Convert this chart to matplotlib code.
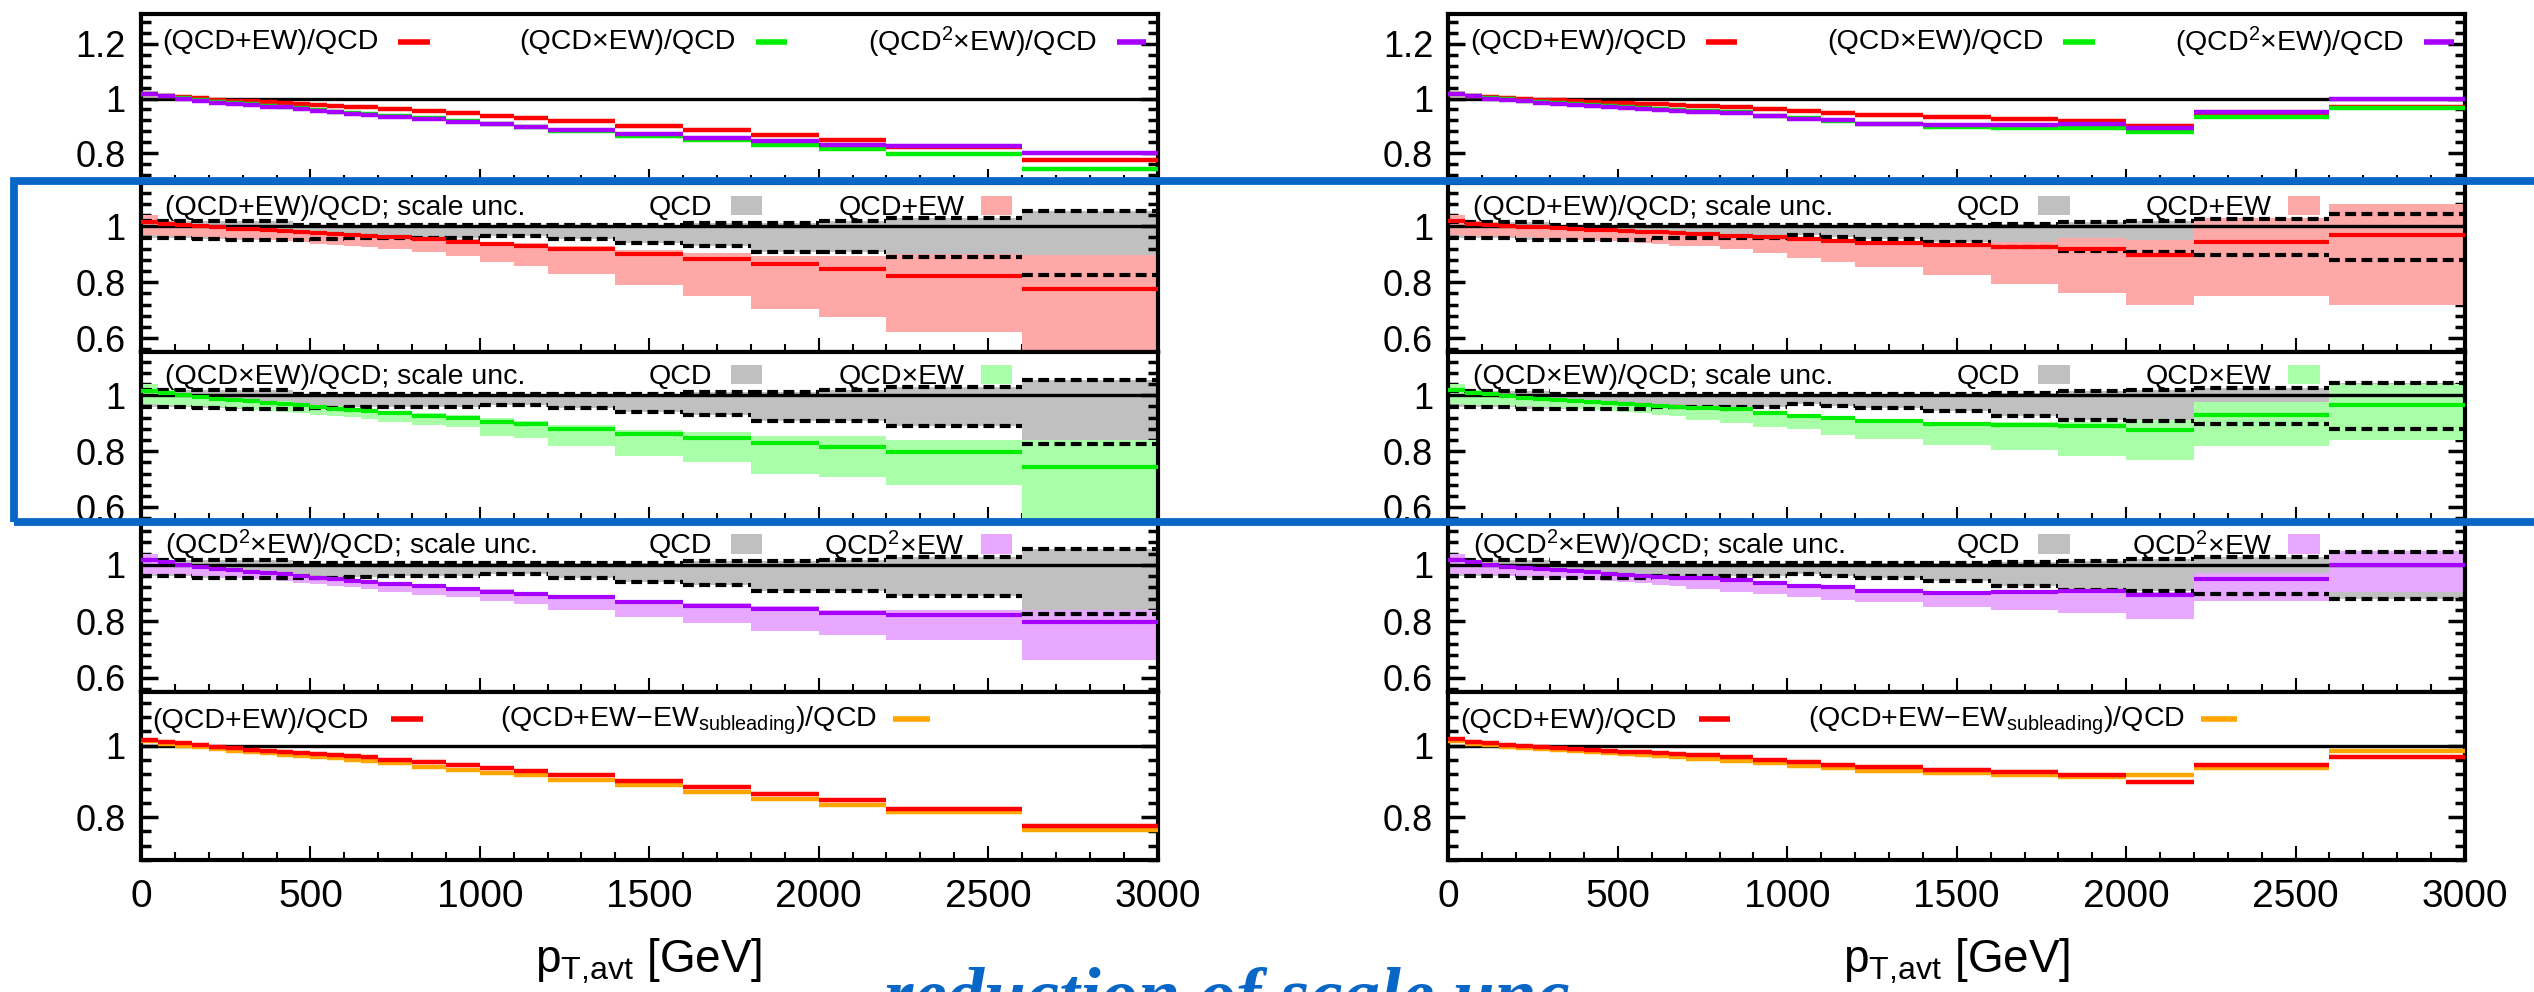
import matplotlib.pyplot as plt
from matplotlib.patches import Rectangle
from matplotlib.ticker import MultipleLocator, FuncFormatter

plt.rcParams['font.family'] = ['Liberation Sans', 'DejaVu Sans']
plt.rcParams['mathtext.default'] = 'regular'

# bin edges in GeV
edges = [0, 50, 100, 150, 200, 250, 300, 350, 400, 450, 500, 550, 600, 650, 700,
         800, 900, 1000, 1100, 1200, 1400, 1600, 1800, 2000, 2200, 2600, 3000]

# ---- left column ----
red_L = [1.017, 1.010, 1.006, 1.001, 0.996, 0.992, 0.989, 0.986, 0.983, 0.979, 0.976, 0.973, 0.970,
         0.967, 0.961, 0.953, 0.945, 0.936, 0.930, 0.918, 0.900, 0.884, 0.866, 0.848, 0.823, 0.775]
green_L = [1.017, 1.010, 1.002, 0.994, 0.988, 0.983, 0.978, 0.973, 0.970, 0.965, 0.957, 0.952, 0.947,
           0.942, 0.936, 0.927, 0.917, 0.906, 0.896, 0.881, 0.861, 0.846, 0.828, 0.814, 0.797, 0.743]
purple_L = [1.017, 1.010, 0.999, 0.991, 0.985, 0.980, 0.975, 0.970, 0.967, 0.962, 0.954, 0.949, 0.944,
            0.939, 0.933, 0.924, 0.915, 0.905, 0.896, 0.886, 0.869, 0.856, 0.845, 0.831, 0.824, 0.799]
orange_L = [1.012, 1.005, 1.000, 0.995, 0.990, 0.985, 0.982, 0.978, 0.975, 0.970, 0.967, 0.964, 0.961,
            0.957, 0.951, 0.941, 0.933, 0.923, 0.917, 0.905, 0.889, 0.870, 0.851, 0.835, 0.813, 0.763]
qcd_hi_L = [1.018, 1.018, 1.018, 1.018, 1.018, 1.018, 1.018, 1.018, 1.018, 1.005, 1.005, 1.005, 1.005,
            1.005, 1.005, 1.005, 1.005, 1.005, 1.005, 1.005, 1.006, 1.012, 1.012, 1.018, 1.029, 1.055]
qcd_lo_L = [0.959, 0.959, 0.959, 0.954, 0.953, 0.952, 0.952, 0.952, 0.952, 0.952, 0.953, 0.955, 0.957,
            0.958, 0.959, 0.959, 0.959, 0.967, 0.967, 0.953, 0.939, 0.929, 0.909, 0.909, 0.889, 0.827]
red_hi_L = [1.040, 1.020, 1.012, 1.006, 1.001, 0.997, 0.994, 0.991, 0.988, 0.984, 0.981, 0.978, 0.975,
            0.972, 0.966, 0.960, 0.953, 0.945, 0.940, 0.930, 0.915, 0.905, 0.895, 0.895, 0.900, 0.899]
red_lo_L = [0.968, 0.967, 0.965, 0.962, 0.959, 0.956, 0.953, 0.950, 0.946, 0.942, 0.938, 0.934, 0.929,
            0.925, 0.920, 0.908, 0.892, 0.872, 0.857, 0.830, 0.791, 0.752, 0.704, 0.674, 0.620, 0.500]
green_hi_L = [1.040, 1.020, 1.010, 1.002, 0.996, 0.991, 0.986, 0.981, 0.978, 0.973, 0.966, 0.961, 0.956,
              0.951, 0.945, 0.937, 0.928, 0.918, 0.908, 0.893, 0.876, 0.870, 0.855, 0.853, 0.841, 0.841]
green_lo_L = [0.968, 0.966, 0.963, 0.960, 0.957, 0.953, 0.949, 0.945, 0.941, 0.936, 0.931, 0.926, 0.921,
              0.916, 0.905, 0.893, 0.885, 0.855, 0.847, 0.817, 0.784, 0.760, 0.717, 0.707, 0.678, 0.500]
purple_hi_L = [1.040, 1.018, 1.006, 0.998, 0.992, 0.987, 0.982, 0.977, 0.974, 0.969, 0.961, 0.956, 0.951,
               0.946, 0.940, 0.932, 0.923, 0.913, 0.904, 0.894, 0.877, 0.864, 0.853, 0.841, 0.841, 0.841]
purple_lo_L = [0.968, 0.966, 0.963, 0.960, 0.957, 0.953, 0.949, 0.945, 0.941, 0.936, 0.931, 0.926, 0.921,
               0.916, 0.905, 0.892, 0.885, 0.872, 0.861, 0.841, 0.815, 0.793, 0.766, 0.752, 0.734, 0.662]

# ---- right column ----
red_R = [1.018, 1.010, 1.006, 1.002, 0.999, 0.996, 0.993, 0.990, 0.988, 0.985, 0.983, 0.981, 0.979,
         0.977, 0.973, 0.967, 0.960, 0.953, 0.947, 0.940, 0.932, 0.925, 0.919, 0.899, 0.945, 0.968]
green_R = [1.018, 1.010, 1.003, 0.997, 0.992, 0.988, 0.984, 0.980, 0.976, 0.972, 0.968, 0.964, 0.960,
           0.957, 0.954, 0.950, 0.937, 0.927, 0.918, 0.908, 0.897, 0.892, 0.891, 0.877, 0.931, 0.965]
purple_R = [1.018, 1.010, 1.000, 0.994, 0.989, 0.985, 0.981, 0.977, 0.973, 0.969, 0.965, 0.961, 0.958,
            0.955, 0.952, 0.946, 0.934, 0.924, 0.921, 0.907, 0.901, 0.903, 0.907, 0.892, 0.949, 0.998]
orange_R = [1.012, 1.005, 1.001, 0.997, 0.994, 0.991, 0.988, 0.985, 0.982, 0.979, 0.976, 0.973, 0.970,
            0.967, 0.963, 0.957, 0.950, 0.943, 0.937, 0.929, 0.922, 0.918, 0.912, 0.919, 0.936, 0.986]
qcd_hi_R = [1.016, 1.016, 1.016, 1.016, 1.016, 1.016, 1.006, 1.006, 1.006, 1.006, 1.006, 1.006, 1.006,
            1.006, 1.006, 1.006, 1.006, 1.006, 1.006, 1.006, 1.006, 1.010, 1.014, 1.020, 1.026, 1.044]
qcd_lo_R = [0.959, 0.959, 0.959, 0.959, 0.952, 0.952, 0.952, 0.952, 0.952, 0.952, 0.952, 0.952, 0.959,
            0.959, 0.959, 0.959, 0.959, 0.968, 0.962, 0.953, 0.942, 0.926, 0.911, 0.908, 0.898, 0.880]
red_hi_R = [1.040, 1.020, 1.012, 1.007, 1.004, 1.001, 0.998, 0.995, 0.993, 0.990, 0.988, 0.986, 0.984,
            0.982, 0.978, 0.972, 0.965, 0.958, 0.952, 0.945, 0.940, 0.942, 0.958, 0.951, 1.029, 1.079]
red_lo_R = [0.968, 0.966, 0.964, 0.962, 0.960, 0.958, 0.955, 0.952, 0.949, 0.946, 0.943, 0.939, 0.935,
            0.931, 0.929, 0.917, 0.903, 0.888, 0.872, 0.854, 0.824, 0.792, 0.761, 0.720, 0.749, 0.720]
green_hi_R = [1.040, 1.020, 1.010, 1.003, 0.998, 0.994, 0.990, 0.986, 0.982, 0.978, 0.974, 0.970, 0.966,
              0.963, 0.960, 0.956, 0.944, 0.934, 0.926, 0.916, 0.906, 0.905, 0.905, 0.912, 0.976, 1.039]
green_lo_R = [0.968, 0.966, 0.964, 0.962, 0.960, 0.957, 0.954, 0.951, 0.948, 0.944, 0.940, 0.935, 0.930,
              0.925, 0.910, 0.900, 0.887, 0.878, 0.858, 0.843, 0.823, 0.803, 0.784, 0.767, 0.819, 0.841]
purple_hi_R = [1.040, 1.018, 1.007, 1.000, 0.995, 0.991, 0.987, 0.983, 0.979, 0.975, 0.971, 0.967, 0.964,
               0.961, 0.958, 0.952, 0.940, 0.930, 0.927, 0.914, 0.908, 0.910, 0.914, 0.905, 0.972, 1.050]
purple_lo_R = [0.968, 0.966, 0.964, 0.962, 0.960, 0.957, 0.954, 0.951, 0.948, 0.944, 0.940, 0.935, 0.930,
               0.925, 0.915, 0.905, 0.895, 0.885, 0.875, 0.867, 0.851, 0.839, 0.829, 0.808, 0.871, 0.905]

RED, GREEN, PURPLE, ORANGE = '#ff0000', '#00ee00', '#a800ff', '#ffa500'
PINK, LGREEN, LILAC, GRAY = '#ffa8a8', '#a8ffa8', '#e8a8ff', '#c0c0c0'
BLUE = '#0866c6'

W, H = 2534, 992
fig = plt.figure(figsize=(W / 100, H / 100), dpi=100)

rows = [(14, 183), (183, 352), (352, 521), (521, 692), (692, 860)]
ylims = [(0.69, 1.31), (0.55, 1.155), (0.55, 1.155), (0.55, 1.155), (0.68, 1.15)]
yticks = [[0.8, 1, 1.2], [0.6, 0.8, 1], [0.6, 0.8, 1], [0.6, 0.8, 1], [0.8, 1]]
LFS = 20.5
DASH = (0, (2.6, 1.3))


def seg(ax, vals, **kw):
    ax.hlines(vals, edges[:-1], edges[1:], **kw)


def sample(ax, x0, x1, y, color):
    ax.plot([x0, x1], [y, y], color=color, lw=4, transform=ax.get_yaxis_transform(),
            clip_on=False, solid_capstyle='butt')


def box(ax, x0, color):
    ax.add_patch(Rectangle((x0, 1.04), 0.031, 0.07, color=color, lw=0,
                           transform=ax.get_yaxis_transform()))


def label(ax, x, y, s, ha='right'):
    ax.text(x, y, s, ha=ha, va='center', fontsize=LFS, transform=ax.get_yaxis_transform())


def style(ax, i):
    ax.set_xlim(0, 3000)
    ax.set_ylim(*ylims[i])
    ax.set_yticks(yticks[i])
    ax.yaxis.set_major_formatter(FuncFormatter(lambda v, p: '%g' % v))
    ax.yaxis.set_minor_locator(MultipleLocator(0.04))
    ax.xaxis.set_major_locator(MultipleLocator(500))
    ax.xaxis.set_minor_locator(MultipleLocator(100))
    ax.tick_params(axis='x', which='both', direction='in', top=False, bottom=True,
                   labelsize=28, pad=14, width=1.5)
    ax.tick_params(axis='x', which='major', length=10)
    ax.tick_params(axis='x', which='minor', length=5.5)
    ax.tick_params(axis='y', which='both', direction='in', left=True, right=True,
                   labelsize=26, pad=11, width=2.5)
    ax.tick_params(axis='y', which='major', length=12)
    ax.tick_params(axis='y', which='minor', length=7)
    if i < 4:
        ax.tick_params(axis='x', labelbottom=False)
    for s in ax.spines.values():
        s.set_linewidth(3)
    ax.axhline(1, color='k', lw=2.4, zorder=4)


def ratio_panel(ax, qlo, qhi, lo, hi, c, color, fillc, name, short):
    ax.stairs(qhi, edges, baseline=qlo, fill=True, color=GRAY, lw=0, zorder=1)
    ax.stairs(hi, edges, baseline=lo, fill=True, color=fillc, lw=0, zorder=2)
    seg(ax, qlo, color='k', lw=3, linestyles=DASH, zorder=3)
    seg(ax, qhi, color='k', lw=3, linestyles=DASH, zorder=3)
    seg(ax, c, color=color, lw=3, zorder=5)
    label(ax, 0.024, 1.067, name + '; scale unc.', ha='left')
    label(ax, 0.562, 1.067, 'QCD')
    box(ax, 0.580, GRAY)
    label(ax, 0.810, 1.067, short)
    box(ax, 0.826, fillc)


def column(x0, red, green, purple, orange, qlo, qhi, rlo, rhi, glo, ghi, plo, phi):
    axs = []
    for i, (t, b) in enumerate(rows):
        ax = fig.add_axes([x0 / W, 1 - b / H, 1016.5 / W, (b - t) / H])
        style(ax, i)
        axs.append(ax)
    a = axs[0]
    seg(a, red, color=RED, lw=3.2, zorder=5)
    seg(a, green, color=GREEN, lw=3.2, zorder=5)
    seg(a, purple, color=PURPLE, lw=3.2, zorder=5)
    label(a, 0.234, 1.207, '(QCD+EW)/QCD')
    sample(a, 0.253, 0.284, 1.207, RED)
    label(a, 0.585, 1.207, '(QCD×EW)/QCD')
    sample(a, 0.605, 0.636, 1.207, GREEN)
    label(a, 0.940, 1.207, '(QCD$^2$×EW)/QCD')
    sample(a, 0.960, 0.989, 1.207, PURPLE)

    ratio_panel(axs[1], qlo, qhi, rlo, rhi, red, RED, PINK, '(QCD+EW)/QCD', 'QCD+EW')
    ratio_panel(axs[2], qlo, qhi, glo, ghi, green, GREEN, LGREEN, '(QCD×EW)/QCD', 'QCD×EW')
    ratio_panel(axs[3], qlo, qhi, plo, phi, purple, PURPLE, LILAC,
                '(QCD$^2$×EW)/QCD', 'QCD$^2$×EW')

    a = axs[4]
    seg(a, orange, color=ORANGE, lw=3.2, zorder=5)
    seg(a, red, color=RED, lw=3.2, zorder=6)
    label(a, 0.224, 1.07, '(QCD+EW)/QCD')
    sample(a, 0.246, 0.277, 1.075, RED)
    label(a, 0.724, 1.07, '(QCD+EW−EW$_{subleading}$)/QCD')
    sample(a, 0.740, 0.776, 1.075, ORANGE)
    fig.text((x0 + 508) / W, 1 - 973 / H, 'p$_{T{,}avt}$ [GeV]', ha='center', va='baseline',
             fontsize=33)


column(141, red_L, green_L, purple_L, orange_L, qcd_lo_L, qcd_hi_L,
       red_lo_L, red_hi_L, green_lo_L, green_hi_L, purple_lo_L, purple_hi_L)
column(1448.5, red_R, green_R, purple_R, orange_R, qcd_lo_R, qcd_hi_R,
       red_lo_R, red_hi_R, green_lo_R, green_hi_R, purple_lo_R, purple_hi_R)

fig.add_artist(Rectangle((14 / W, 1 - 522 / H), 1.05, (522 - 181) / H, transform=fig.transFigure,
                         fill=False, ec=BLUE, lw=5.6, zorder=10))
# the reference crops this caption at the bottom edge
fig.text(884 / W, 1 - 1019 / H, 'reduction of scale unc.', color=BLUE, fontsize=54,
         family='Liberation Serif', style='italic', weight='bold', ha='left', va='baseline')

fig.savefig('out.png', dpi=100)
